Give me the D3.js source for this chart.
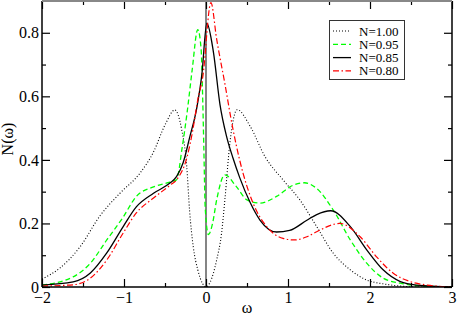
<!DOCTYPE html>
<html>
<head>
<meta charset="utf-8">
<script src="https://cdn.jsdelivr.net/npm/d3@7"></script>
<style>
  body { margin: 0; background: #fff; }
</style>
</head>
<body>
<svg width="457" height="316"></svg>
<script>
// series: omega values and N(omega)
const w100 = [-2, -1.78, -1.54, -1.29, -1.05, -0.8, -0.64, -0.5, -0.38, -0.3, -0.235, -0.2, -0.155, -0.1, -0.04, 0, 0.05, 0.13, 0.19, 0.23, 0.29, 0.38, 0.54, 0.72, 0.94, 1.15, 1.35, 1.55, 1.76, 1.96, 2.16, 2.37, 2.6, 3];
const n100 = [0.025, 0.06, 0.125, 0.225, 0.295, 0.36, 0.425, 0.51, 0.557, 0.5, 0.38, 0.24, 0.126, 0.054, 0.01, 0, 0.015, 0.085, 0.17, 0.274, 0.45, 0.558, 0.505, 0.41, 0.337, 0.272, 0.19, 0.107, 0.054, 0.022, 0.01, 0.003, 0, 0];

const w095 = [-2, -1.62, -1.41, -1.21, -1.01, -0.85, -0.64, -0.44, -0.36, -0.29, -0.23, -0.17, -0.1, -0.06, -0.04, -0.025, -0.01, 0.03, 0.08, 0.13, 0.23, 0.37, 0.5, 0.66, 0.86, 1.06, 1.2, 1.35, 1.55, 1.76, 1.96, 2.16, 2.37, 2.57, 3];
const n095 = [0.006, 0.032, 0.075, 0.148, 0.22, 0.285, 0.315, 0.33, 0.337, 0.44, 0.55, 0.68, 0.81, 0.75, 0.59, 0.42, 0.25, 0.165, 0.2, 0.274, 0.353, 0.316, 0.274, 0.264, 0.285, 0.32, 0.328, 0.31, 0.243, 0.148, 0.075, 0.028, 0.012, 0.004, 0];

const w085 = [-2, -1.62, -1.41, -1.21, -1.01, -0.85, -0.64, -0.44, -0.36, -0.28, -0.2, -0.11, -0.05, 0.01, 0.09, 0.17, 0.25, 0.33, 0.41, 0.54, 0.66, 0.86, 1.02, 1.23, 1.35, 1.52, 1.76, 1.96, 2.16, 2.37, 2.57, 3];
const n085 = [0.006, 0.016, 0.044, 0.107, 0.19, 0.252, 0.295, 0.327, 0.347, 0.39, 0.47, 0.567, 0.67, 0.83, 0.74, 0.575, 0.475, 0.405, 0.345, 0.265, 0.21, 0.173, 0.178, 0.21, 0.228, 0.24, 0.19, 0.117, 0.054, 0.017, 0.006, 0];

const w080 = [-2, -1.62, -1.41, -1.21, -1.01, -0.85, -0.64, -0.44, -0.36, -0.23, -0.16, -0.1, -0.04, 0.06, 0.13, 0.23, 0.33, 0.41, 0.58, 0.74, 0.94, 1.08, 1.23, 1.35, 1.63, 1.88, 2.08, 2.28, 2.49, 2.7, 3];
const n080 = [0.003, 0.007, 0.028, 0.085, 0.17, 0.233, 0.28, 0.32, 0.337, 0.41, 0.495, 0.59, 0.66, 0.895, 0.78, 0.64, 0.495, 0.40, 0.26, 0.19, 0.153, 0.148, 0.158, 0.174, 0.2, 0.158, 0.095, 0.044, 0.017, 0.006, 0];

const seriesNames = ["N=1.00", "N=0.95", "N=0.85", "N=0.80"];
const xTicks = [-2, -1, 0, 1, 2, 3];
const yTicks = [0, 0.2, 0.4, 0.6, 0.8];

const series = [
  { name: seriesNames[0], w: w100, n: n100, color: "#000", dash: "1,2", width: 1.1 },
  { name: seriesNames[1], w: w095, n: n095, color: "#00ff00", dash: "5,3", width: 1.3 },
  { name: seriesNames[2], w: w085, n: n085, color: "#000", dash: null, width: 1.3 },
  { name: seriesNames[3], w: w080, n: n080, color: "#ff0000", dash: "6,2.5,1.5,2.5", width: 1.2 }
];

const serif = '"Liberation Serif", "Times New Roman", Times, serif';

const svg = d3.select("svg");
const pLeft = 42, pRight = 452, pTop = 1, pBottom = 287;

const x = d3.scaleLinear().domain([-2, 3]).range([pLeft, pRight]);
const y = d3.scaleLinear().domain([0, 0.9]).range([pBottom, pTop]);

svg.append("clipPath").attr("id", "plot")
  .append("rect").attr("x", pLeft).attr("y", pTop)
  .attr("width", pRight - pLeft).attr("height", pBottom - pTop);

// vertical line at omega = 0
svg.append("line")
  .attr("x1", x(0)).attr("x2", x(0))
  .attr("y1", y(0)).attr("y2", y(0.9))
  .attr("stroke", "#333").attr("stroke-width", 1.2);

const line = d3.line()
  .x((d) => x(d[0]))
  .y((d) => y(d[1]))
  .curve(d3.curveMonotoneX);

svg.append("g").attr("clip-path", "url(#plot)")
  .selectAll("path")
  .data(series)
  .enter()
  .append("path")
  .attr("fill", "none")
  .attr("stroke", (d) => d.color)
  .attr("stroke-width", (d) => d.width)
  .attr("stroke-dasharray", (d) => d.dash)
  .attr("d", (d) => line(d.w.map((v, i) => [v, d.n[i]])));

// axes, ticks pointing inward
const fmtY = (d) => (d === 0 ? "0" : d3.format(".1f")(d));
const xMinor = d3.range(-1.5, 3, 1);
const yMinor = d3.range(0.1, 0.9, 0.2);

function styleAxis(g) {
  g.select(".domain").remove();
  g.selectAll("line").attr("stroke", "#000").attr("stroke-width", 1.2);
  g.selectAll("text").style("font-family", serif).style("font-size", "16px").attr("fill", "#000");
}

svg.append("g").attr("transform", `translate(0,${pBottom})`)
  .call(d3.axisBottom(x).tickValues(xTicks).tickSize(-8).tickPadding(5).tickFormat(d3.format("d")))
  .call(styleAxis);
svg.append("g").attr("transform", `translate(0,${pBottom})`)
  .call(d3.axisBottom(x).tickValues(xMinor).tickSize(-4).tickFormat(""))
  .call(styleAxis);
svg.append("g").attr("transform", `translate(0,${pTop})`)
  .call(d3.axisTop(x).tickValues(xTicks).tickSize(-8).tickFormat(""))
  .call(styleAxis);
svg.append("g").attr("transform", `translate(0,${pTop})`)
  .call(d3.axisTop(x).tickValues(xMinor).tickSize(-4).tickFormat(""))
  .call(styleAxis);

svg.append("g").attr("transform", `translate(${pLeft},0)`)
  .call(d3.axisLeft(y).tickValues(yTicks).tickSize(-8).tickPadding(3).tickFormat(fmtY))
  .call(styleAxis);
svg.append("g").attr("transform", `translate(${pLeft},0)`)
  .call(d3.axisLeft(y).tickValues(yMinor).tickSize(-4).tickFormat(""))
  .call(styleAxis);
svg.append("g").attr("transform", `translate(${pRight},0)`)
  .call(d3.axisRight(y).tickValues(yTicks).tickSize(-8).tickFormat(""))
  .call(styleAxis);
svg.append("g").attr("transform", `translate(${pRight},0)`)
  .call(d3.axisRight(y).tickValues(yMinor).tickSize(-4).tickFormat(""))
  .call(styleAxis);

// frame
svg.append("line").attr("x1", pLeft).attr("x2", pRight).attr("y1", pBottom).attr("y2", pBottom)
  .attr("stroke", "#000").attr("stroke-width", 1.5);
svg.append("line").attr("x1", pLeft).attr("x2", pLeft).attr("y1", pTop).attr("y2", pBottom)
  .attr("stroke", "#000").attr("stroke-width", 1.5);
svg.append("line").attr("x1", pRight).attr("x2", pRight).attr("y1", pTop).attr("y2", pBottom)
  .attr("stroke", "#000").attr("stroke-width", 1.5);
svg.append("line").attr("x1", pLeft).attr("x2", pRight).attr("y1", pTop).attr("y2", pTop)
  .attr("stroke", "#888").attr("stroke-width", 2);

// axis titles
svg.append("text")
  .attr("x", x(0.5)).attr("y", 313)
  .attr("text-anchor", "middle")
  .style("font-family", serif).style("font-size", "16px")
  .text("ω");
svg.append("text")
  .attr("transform", "translate(13,139) rotate(-90)")
  .attr("text-anchor", "middle")
  .style("font-family", serif).style("font-size", "16px")
  .text("N(ω)");

// legend
const legend = svg.append("g");
legend.append("rect")
  .attr("x", 329.5).attr("y", 20.5).attr("width", 75).attr("height", 59)
  .attr("fill", "#fff").attr("stroke", "#333").attr("stroke-width", 1);

const rows = legend.selectAll("g.row")
  .data(series)
  .enter()
  .append("g")
  .attr("class", "row")
  .attr("transform", (_, i) => `translate(0, ${31 + i * 13.3})`);

rows.append("line")
  .attr("x1", 333).attr("x2", 351).attr("y1", 0).attr("y2", 0)
  .attr("stroke", (d) => d.color)
  .attr("stroke-width", (d) => d.width)
  .attr("stroke-dasharray", (d) => d.dash);

rows.append("text")
  .attr("x", 359).attr("y", 4.5)
  .style("font-family", serif).style("font-size", "13px")
  .text((d) => d.name);
</script>
</body>
</html>
